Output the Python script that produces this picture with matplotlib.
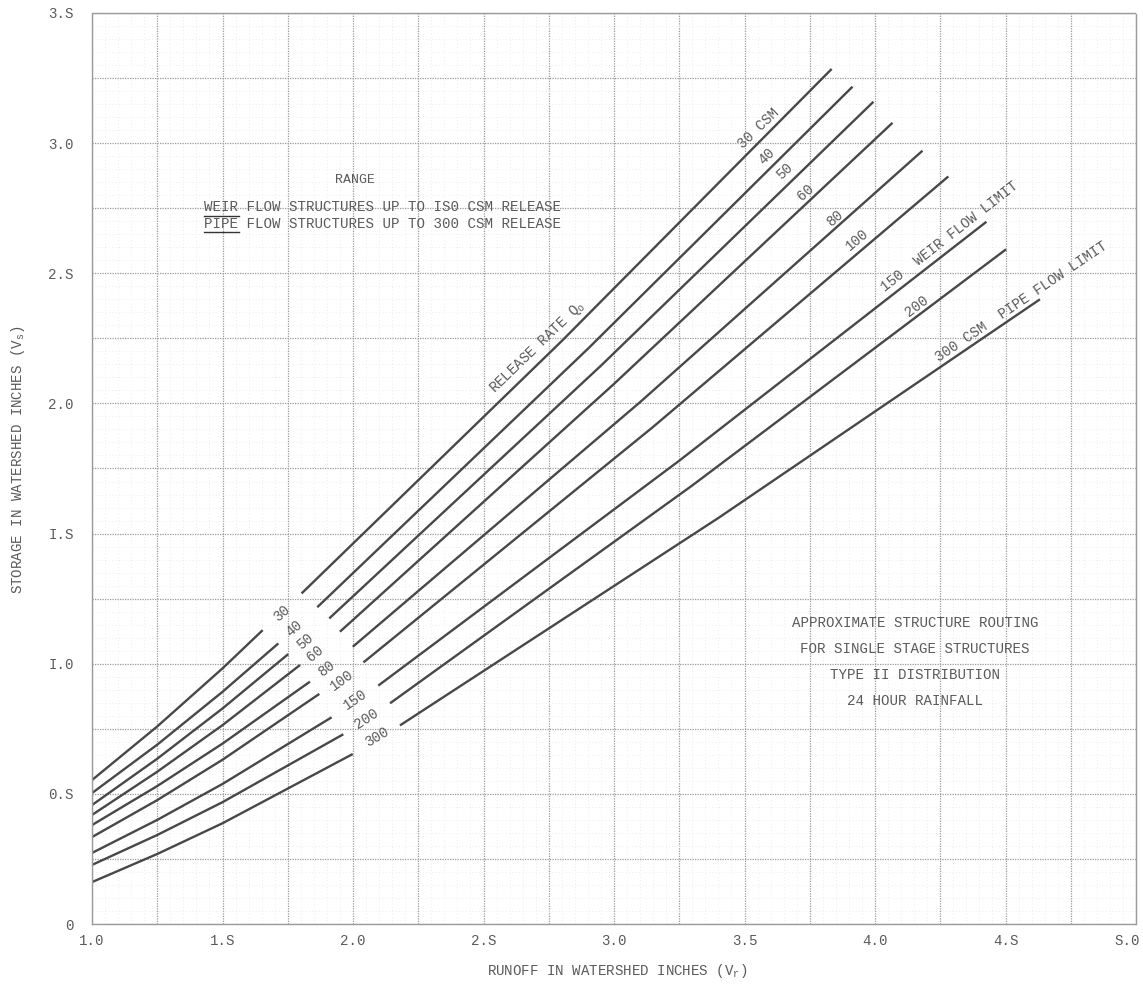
import numpy as np
import matplotlib
matplotlib.use('Agg')
import matplotlib.pyplot as plt
import matplotlib.transforms as mtransforms
from matplotlib.ticker import MultipleLocator

# release rate curves (CSM), each drawn in two pieces with a gap for the labels
rates = ['30', '40', '50', '60', '80', '100', '150', '200', '300']

lower_x = [[1.0, 1.25, 1.5, 1.654],
           [1.0, 1.25, 1.5, 1.714],
           [1.0, 1.25, 1.5, 1.752],
           [1.0, 1.25, 1.5, 1.797],
           [1.0, 1.25, 1.5, 1.835],
           [1.0, 1.25, 1.5, 1.871],
           [1.0, 1.25, 1.5, 1.918],
           [1.0, 1.25, 1.5, 1.963],
           [1.0, 1.25, 1.5, 1.999]]
lower_y = [[0.553, 0.759, 0.982, 1.129],
           [0.503, 0.689, 0.892, 1.078],
           [0.457, 0.635, 0.828, 1.037],
           [0.419, 0.585, 0.764, 0.995],
           [0.380, 0.530, 0.693, 0.931],
           [0.334, 0.476, 0.631, 0.884],
           [0.273, 0.400, 0.538, 0.794],
           [0.227, 0.342, 0.468, 0.729],
           [0.161, 0.269, 0.387, 0.653]]

upper_x = [[1.803, 2.80, 3.834],
           [1.863, 2.90, 3.914],
           [1.909, 2.95, 3.994],
           [1.950, 3.00, 4.067],
           [1.999, 3.10, 4.182],
           [2.040, 3.15, 4.281],
           [2.097, 3.25, 4.427],
           [2.142, 3.30, 4.502],
           [2.180, 3.40, 4.632]]
upper_y = [[1.270, 2.240, 3.285],
           [1.217, 2.210, 3.217],
           [1.174, 2.145, 3.159],
           [1.123, 2.075, 3.078],
           [1.065, 2.005, 2.971],
           [1.005, 1.910, 2.872],
           [0.916, 1.780, 2.698],
           [0.848, 1.685, 2.592],
           [0.763, 1.560, 2.400]]

# labels at the top ends of the curves
top_labels = ['30 CSM', '40', '50', '60', '80', '100',
              '150  WEIR FLOW LIMIT', '200', '300 CSM  PIPE FLOW LIMIT']

xticks = [1.0, 1.5, 2.0, 2.5, 3.0, 3.5, 4.0, 4.5, 5.0]
xtick_labels = ['1.0', '1.S', '2.0', '2.S', '3.0', '3.5', '4.0', '4.S', 'S.0']
yticks = [0, 0.5, 1.0, 1.5, 2.0, 2.5, 3.0, 3.5]
ytick_labels = ['0', '0.S', 'I.0', 'I.S', '2.0', '2.S', '3.0', '3.S']

note_lines = ['APPROXIMATE STRUCTURE ROUTING',
              'FOR SINGLE STAGE STRUCTURES',
              'TYPE II DISTRIBUTION',
              '24 HOUR RAINFALL']

plt.rcParams['font.family'] = ['Liberation Mono', 'DejaVu Sans Mono']
plt.rcParams['mathtext.fontset'] = 'custom'
plt.rcParams['mathtext.rm'] = 'Liberation Mono'
plt.rcParams['mathtext.it'] = 'Liberation Mono'

txt = '#5a5a5a'
line_col = '#484848'
fs = 10.2

fig = plt.figure(figsize=(11.43, 9.88), dpi=100)
ax = fig.add_axes([92 / 1143, 64 / 988, 1044 / 1143, 911 / 988])
ax.set_xlim(1.0, 5.0)
ax.set_ylim(0, 3.5)

# graph paper grid
ax.xaxis.set_major_locator(MultipleLocator(0.25))
ax.yaxis.set_major_locator(MultipleLocator(0.25))
ax.xaxis.set_minor_locator(MultipleLocator(0.05))
ax.yaxis.set_minor_locator(MultipleLocator(0.05))
ax.grid(which='major', color='#9a9a9a', linestyle=(0, (1, 1)), linewidth=0.9)
ax.grid(which='minor', color='#e6e6e6', linestyle=(0, (1, 3)), linewidth=0.6)

grid_x = np.round(np.arange(1.0, 5.01, 0.25), 2)
grid_y = np.round(np.arange(0, 3.51, 0.25), 2)
ax.set_xticks(grid_x)
ax.set_xticklabels([xtick_labels[xticks.index(v)] if v in xticks else '' for v in grid_x])
ax.set_yticks(grid_y)
ax.set_yticklabels([ytick_labels[yticks.index(v)] if v in yticks else '' for v in grid_y])
ax.tick_params(which='both', length=0, colors=txt, labelsize=fs)
ax.tick_params(axis='x', pad=7)
ax.tick_params(axis='y', pad=13)
# keep the last x label inside the figure
last = ax.get_xticklabels()[-1]
last.set_transform(last.get_transform() +
                   mtransforms.ScaledTranslation(-9 / 100, 0, fig.dpi_scale_trans))
for s in ax.spines.values():
    s.set_color('#9a9a9a')
    s.set_linestyle((0, (1, 1)))
    s.set_linewidth(1.0)

for i in range(len(rates)):
    ax.plot(lower_x[i], lower_y[i], color=line_col, lw=1.7, solid_capstyle='butt')
    ax.plot(upper_x[i], upper_y[i], color=line_col, lw=1.7, solid_capstyle='butt')

# rate labels in the gap
gap_pos = [(1.727, 1.194), (1.774, 1.136), (1.816, 1.085), (1.854, 1.040),
           (1.899, 0.982), (1.956, 0.937), (2.008, 0.861), (2.052, 0.790),
           (2.091, 0.720)]
for lab, (gx, gy), r in zip(rates, gap_pos, [42, 41, 40, 39, 37, 36, 34, 33, 31]):
    ax.text(gx, gy, lab, color=txt, fontsize=fs, rotation=r,
            ha='center', va='center', rotation_mode='anchor')

# labels at the top of the curves
top_pos = [(3.553, 3.057), (3.585, 2.949), (3.655, 2.890), (3.736, 2.810),
           (3.847, 2.711), (3.930, 2.630), (4.287, 2.640), (4.159, 2.372),
           (4.562, 2.391)]
top_rot = [44, 44, 43, 42, 41, 40, 38, 37, 34]
for lab, (tx, ty), r in zip(top_labels, top_pos, top_rot):
    ax.text(tx, ty, lab, color=txt, fontsize=fs, rotation=r,
            ha='center', va='center', rotation_mode='anchor')

ax.text(2.705, 2.215, r'RELEASE RATE Q$_\mathrm{o}$', color=txt, fontsize=fs,
        rotation=44, ha='center', va='center', rotation_mode='anchor')

# range note
ax.text(2.008, 2.858, 'RANGE', color=txt, fontsize=9.5, ha='center', va='center')
ax.text(1.429, 2.754, 'WEIR FLOW STRUCTURES UP TO IS0 CSM RELEASE',
        color=txt, fontsize=fs, ha='left', va='center')
ax.text(1.429, 2.689, 'PIPE FLOW STRUCTURES UP TO 300 CSM RELEASE',
        color=txt, fontsize=fs, ha='left', va='center')
ax.plot([1.429, 1.563], [2.722, 2.722], color='#333333', lw=1.0)
ax.plot([1.429, 1.563], [2.657, 2.657], color='#333333', lw=1.0)

for k, line in enumerate(note_lines):
    ax.text(4.153, 1.157 - 0.1 * k, line, color=txt, fontsize=fs,
            ha='center', va='center')

fig.text(617 / 1143, 1 - 971 / 988, r'RUNOFF IN WATERSHED INCHES (V$_\mathrm{r}$)',
         color=txt, fontsize=fs, ha='center', va='center')
fig.text(18 / 1143, 1 - 460 / 988, r'STORAGE IN WATERSHED INCHES (V$_\mathrm{s}$)',
         color=txt, fontsize=fs, ha='center', va='center', rotation=90)

fig.savefig('out.png', dpi=100, facecolor='white')
